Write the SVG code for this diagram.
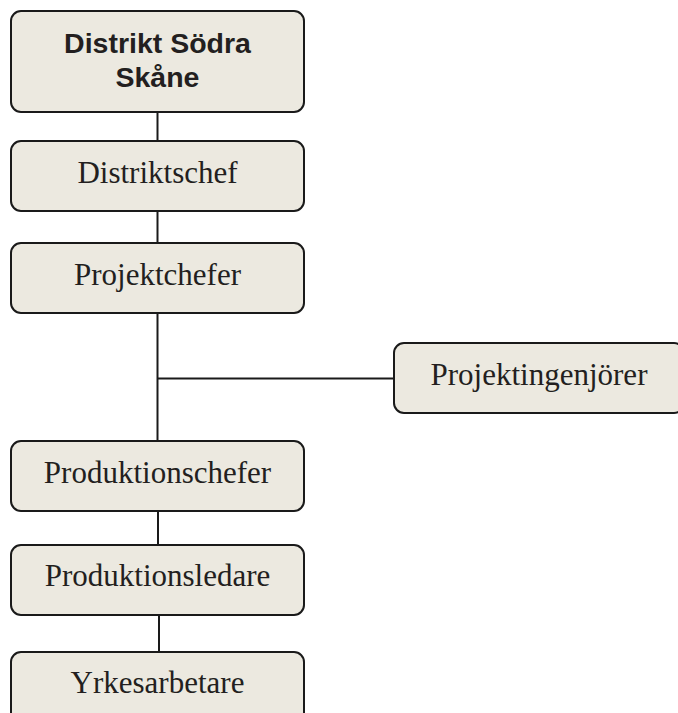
<svg xmlns="http://www.w3.org/2000/svg" width="678" height="713" viewBox="0 0 678 713">
<style>
.box{fill:#ECE9E0;stroke:#1a1a1a;stroke-width:2}
.t{font-family:"Liberation Serif","Times New Roman",serif;font-size:31px;fill:#231f20;text-anchor:middle}
.tb{font-family:"Liberation Sans",Arial,sans-serif;font-size:28.5px;font-weight:bold;fill:#231f20;text-anchor:middle}
.c{stroke:#1a1a1a;stroke-width:2;fill:none}
</style>
<rect width="678" height="713" fill="#ffffff"/>
<g id="connectors">
<line class="c" x1="157.5" y1="112" x2="157.5" y2="141"/>
<line class="c" x1="157.5" y1="211" x2="157.5" y2="243"/>
<line class="c" x1="157.5" y1="313" x2="157.5" y2="441"/>
<line class="c" x1="157.5" y1="378.5" x2="394" y2="378.5"/>
<line class="c" x1="158" y1="511" x2="158" y2="545"/>
<line class="c" x1="159" y1="615" x2="159" y2="652"/>
</g>
<g id="n-distrikt">
<rect class="box" x="11" y="11" width="293" height="101" rx="10"/>
<text class="tb" x="157.5" y="53">Distrikt Södra</text>
<text class="tb" x="157.5" y="87">Skåne</text>
</g>
<g id="n-distriktschef">
<rect class="box" x="11" y="141" width="293" height="70" rx="10"/>
<text class="t" x="157.5" y="183">Distriktschef</text>
</g>
<g id="n-projektchefer">
<rect class="box" x="11" y="243" width="293" height="70" rx="10"/>
<text class="t" x="157.5" y="285">Projektchefer</text>
</g>
<g id="n-projektingenjorer">
<rect class="box" x="394" y="343" width="290" height="70" rx="10"/>
<text class="t" x="539" y="385">Projektingenjörer</text>
</g>
<g id="n-produktionschefer">
<rect class="box" x="11" y="441" width="293" height="70" rx="10"/>
<text class="t" x="157.5" y="483">Produktionschefer</text>
</g>
<g id="n-produktionsledare">
<rect class="box" x="11" y="545" width="293" height="70" rx="10"/>
<text class="t" x="157.5" y="586">Produktionsledare</text>
</g>
<g id="n-yrkesarbetare">
<rect class="box" x="11" y="652" width="293" height="70" rx="10"/>
<text class="t" x="157.5" y="693">Yrkesarbetare</text>
</g>
</svg>
